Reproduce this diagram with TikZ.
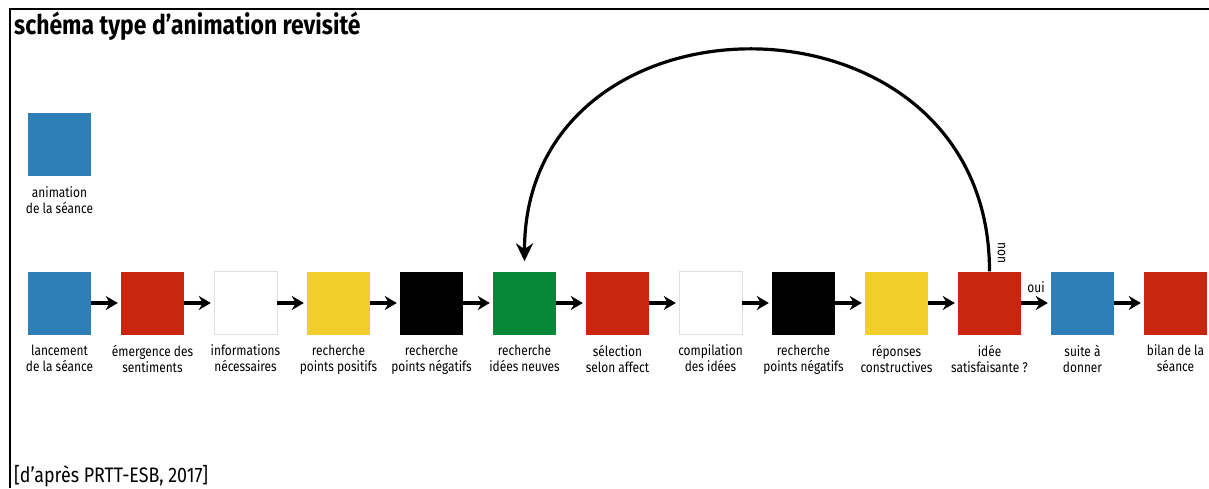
\documentclass[tikz,border=0pt]{standalone}
\usepackage{fontspec}
\setmainfont{Fira Sans}[FakeStretch=0.85]
\usetikzlibrary{arrows.meta,positioning}
\definecolor{animblue}{RGB}{46,126,184}
\definecolor{animred}{RGB}{200,38,14}
\definecolor{animyellow}{RGB}{242,206,44}
\definecolor{animgreen}{RGB}{6,136,56}

\begin{document}
\begin{tikzpicture}[x=1pt,y=1pt,
  phase/.style={rectangle, minimum size=63pt, inner sep=0pt, draw=none},
  blank/.style={phase, fill=white, draw=black!12, thin},
  lab/.style={font=\fontsize{14}{16}\selectfont, align=center, inner sep=0pt},
  arr/.style={-{Stealth[length=12pt,width=14pt]}, line width=3.4pt, shorten >=3pt},
  back/.style={-{Stealth[length=18pt,width=17pt]}, line width=3.2pt}
]
  \useasboundingbox (0,0) rectangle (1209,488);
  \draw[line width=2pt] (10,0) -- (10,478.5) -- (1209,478.5);

  \node[anchor=base west, inner sep=0pt, font=\fontsize{27}{30}\selectfont\bfseries]
    (title) at (14,453) {schéma type d’animation revisité};
  \node[anchor=base west, inner sep=0pt, font=\fontsize{21}{24}\selectfont]
    (src) at (14,6) {[d’après PRTT-ESB, 2017]};

  % legende
  \node[phase, fill=animblue] (legend) at (59.5,343) {};
  \node[lab, below=10pt of legend] (llegend) {animation\\de la séance};

  % deroulement
  \node[phase, fill=animblue]                    (b1)  at (59.5,185) {};
  \node[phase, fill=animred,    right=29.6pt of b1]  (b2)  {};
  \node[blank,                  right=29.6pt of b2]  (b3)  {};
  \node[phase, fill=animyellow, right=29.6pt of b3]  (b4)  {};
  \node[phase, fill=black,      right=29.6pt of b4]  (b5)  {};
  \node[phase, fill=animgreen,  right=29.6pt of b5]  (b6)  {};
  \node[phase, fill=animred,    right=29.6pt of b6]  (b7)  {};
  \node[blank,                  right=29.6pt of b7]  (b8)  {};
  \node[phase, fill=black,      right=29.6pt of b8]  (b9)  {};
  \node[phase, fill=animyellow, right=29.6pt of b9]  (b10) {};
  \node[phase, fill=animred,    right=29.6pt of b10] (b11) {};
  \node[phase, fill=animblue,   right=29.6pt of b11] (b12) {};
  \node[phase, fill=animred,    right=29.6pt of b12] (b13) {};

  \node[lab, below=10pt of b1]  (l1)  {lancement\\de la séance};
  \node[lab, below=10pt of b2]  (l2)  {émergence des\\sentiments};
  \node[lab, below=10pt of b3]  (l3)  {informations\\nécessaires};
  \node[lab, below=10pt of b4]  (l4)  {recherche\\points positifs};
  \node[lab, below=10pt of b5]  (l5)  {recherche\\points négatifs};
  \node[lab, below=10pt of b6]  (l6)  {recherche\\idées neuves};
  \node[lab, below=10pt of b7]  (l7)  {sélection\\selon affect};
  \node[lab, below=10pt of b8]  (l8)  {compilation\\des idées};
  \node[lab, below=10pt of b9]  (l9)  {recherche\\points négatifs};
  \node[lab, below=10pt of b10] (l10) {réponses\\constructives};
  \node[lab, below=10pt of b11] (l11) {idée\\satisfaisante ?};
  \node[lab, below=10pt of b12] (l12) {suite à\\donner};
  \node[lab, below=10pt of b13] (l13) {bilan de la\\séance};

  \foreach \a/\b in {b1/b2,b2/b3,b3/b4,b4/b5,b5/b6,b6/b7,b7/b8,b8/b9,b9/b10,b10/b11,b11/b12,b12/b13} {
    \draw[arr] (\a) -- (\b);
  }
  \path (b11) -- node[lab, above=10pt] (oui) {oui} (b12);

  % retour
  \coordinate (retour) at ([yshift=10pt]b6.north);
  \draw[back] (b11.north) .. controls +(0,293) and +(0,283) .. (retour);
  \node[lab, rotate=-90] (non) at ([xshift=12pt,yshift=18.5pt]b11.north) {non};
\end{tikzpicture}
\end{document}
